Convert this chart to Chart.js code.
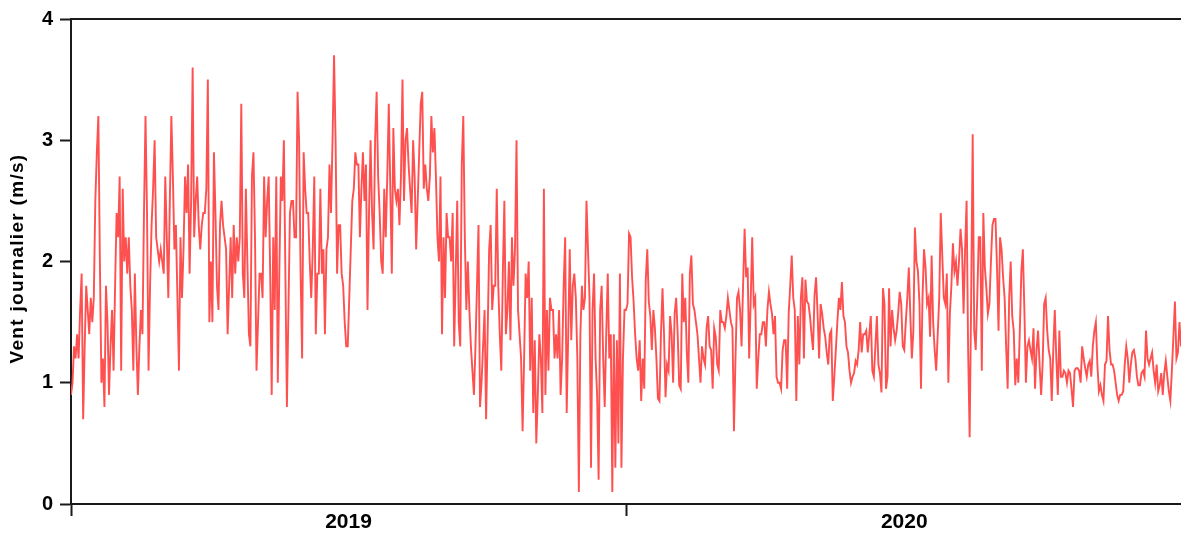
<!DOCTYPE html>
<html><head><meta charset="utf-8">
<script src="https://cdn.jsdelivr.net/npm/chart.js@4.4.1/dist/chart.umd.min.js"></script>
<style>html,body{margin:0;padding:0;background:#fff;}#wrap{width:1181px;height:535px;position:relative;}</style>
</head><body><div id="wrap"><canvas id="c"></canvas></div>
<script>
// Daily wind (m/s)
const wind2019a=[0.9,1.0,1.3,1.2,1.4,1.2,1.6,1.9,0.7,1.3,1.8,1.6,1.4,1.7,1.5,1.7,2.5,2.9,3.2,2.0,1.0,1.2,0.8,1.8,1.5,0.9,1.3,1.6,1.1,1.8,2.4,2.2,2.7,1.1,2.6,2.0,2.2,1.9,2.2,1.8,1.6,1.1,1.9,1.3,0.9,1.3,1.6,1.4,2.4,3.2,2.4,1.1,1.8,2.3,2.6,3.0,2.2,2.1,2.0,2.1,2.0,1.9,2.7,2.2,1.7,2.5,3.2,2.7,2.1,2.3,1.7,1.1,2.2,1.7,2.1,2.7,2.4,2.8,1.9,2.5,3.6,2.2,2.5,2.7,2.3,2.1,2.3,2.4,2.4,2.6,3.5,1.5];
const wind2019b=[2.0,1.5,2.9,2.4,1.8,1.6,2.3,2.5,2.3,2.2,2.1,1.4,1.8,2.2,1.7,2.3,1.9,2.2,2.0,2.2,3.3,1.9,1.7,2.6,2.0,1.4,1.3,2.7,2.9,2.2,1.1,1.5,1.9,1.9,1.7,2.7,2.2,2.5,2.7,1.9,0.9,2.2,1.6,2.7,1.0,1.9,2.7,2.5,3.0,1.9,0.8,1.6,2.4,2.5,2.5,2.2,2.2,3.4,3.0,1.9,1.2,2.9,2.6,2.4,2.4,2.0,1.7,2.1,2.7,1.4,1.9,1.9,2.6,1.9,2.1,1.4,2.1,2.2,2.8,2.4,3.0,3.7,3.0,1.9,2.3,2.3,1.9,1.8,1.5,1.3];
const wind2019c=[1.3,1.7,2.1,2.5,2.6,2.9,2.8,2.8,2.2,2.6,2.9,2.5,2.8,1.6,2.4,3.0,2.4,2.1,3.0,3.4,2.7,2.4,2.0,1.9,2.6,2.2,2.7,3.3,2.6,1.9,3.1,2.6,2.5,2.6,2.3,2.7,3.5,2.5,3.0,3.1,2.8,2.6,2.4,3.0,2.7,2.1,2.5,2.9,3.3,3.4,2.6,2.8,2.6,2.5,2.7,3.2,2.9,3.1,2.7,2.2,2.0,2.7,1.4,2.2,1.7,2.4,2.2,2.2,2.0,2.4,1.3,1.9,2.5,1.5,1.3,2.8,3.2,2.2,1.6,2.0,1.6,1.3,1.1,0.9,1.3,1.8,2.3,0.8,1.0];
const wind2019d=[1.3,1.6,0.7,1.4,2.1,2.3,1.6,1.8,1.8,2.6,1.8,1.4,1.1,1.9,2.5,1.4,1.6,2.0,1.35,2.2,1.8,2.1,3.0,1.6,1.4,1.2,0.6,1.2,1.9,1.7,2.0,1.1,1.7,0.75,1.35,0.5,0.9,1.4,1.2,0.75,2.6,0.9,1.6,1.1,1.7,1.6,1.6,1.2,1.4,1.2,1.6,0.9,1.2,1.8,2.2,0.75,1.4,2.1,1.35,1.8,1.9,1.7,1.2,0.1,1.4,1.8,1.6,1.7,2.5,2.1,1.7,0.3,1.6,1.9,1.2,0.9,0.2,1.6,1.8,1.2,0.8,1.4,1.9,1.2,1.4,0.1,1.4,0.3,1.35,0.5,1.9,0.3,1.2,1.6];
const wind2020a=[1.6,1.65,2.23,2.2,1.87,1.67,1.4,1.2,1.1,1.35,0.85,1.2,0.95,1.85,2.1,1.67,1.55,1.27,1.6,1.45,1.2,0.87,0.85,1.4,1.78,1.4,0.88,1.15,1.1,1.55,1.4,1.0,1.57,1.7,1.4,0.98,0.95,1.9,1.5,1.7,1.25,1.0,1.9,2.05,1.65,1.6,1.5,1.4,1.2,1.0,1.3,1.2,1.15,1.45,1.55,1.3,1.27,0.95,1.45,1.38,1.15,1.1,1.6,1.5,1.5,1.45,1.55,1.7,1.6,1.5,1.45,0.6,1.2,1.7,1.75,1.6,1.3,1.8,2.27,1.87,1.95,1.2,1.67,2.2,1.65,1.7,0.95,1.2,1.4,1.4];
const wind2020b=[1.5,1.5,1.3,1.6,1.75,1.65,1.57,1.4,1.55,1.05,1.0,1.0,0.95,1.27,1.35,1.35,0.95,1.57,1.8,2.05,1.7,1.6,0.85,1.55,1.15,1.7,1.87,1.2,1.85,1.67,1.65,1.55,1.4,1.27,1.72,1.87,1.57,1.2,1.65,1.57,1.45,1.38,1.25,1.15,1.4,1.43,0.85,1.05,1.27,1.5,1.7,1.6,1.83,1.55,1.5,1.3,1.25,1.1,1.0,1.05,1.08,1.18,1.15,1.27,1.5,1.25,1.4,1.4,1.43,1.25,1.4,1.55,1.1,1.05,1.3,1.55,1.15,1.08,0.92,1.78,1.65,0.95,1.05,1.78,1.3,1.6,1.45,1.35,1.43,1.57,1.75];
const wind2020c=[1.65,1.3,1.27,1.5,1.7,1.95,1.55,1.2,1.43,2.28,2.0,1.92,1.65,0.95,1.7,2.1,1.95,1.65,1.7,1.38,2.05,1.5,1.27,1.1,1.4,1.7,2.4,2.05,1.7,1.65,1.9,1.0,1.57,1.8,2.15,1.92,2.0,1.8,2.0,2.27,2.1,1.57,2.1,2.5,1.27,0.55,1.7,3.05,1.43,1.27,1.7,2.2,2.2,1.1,2.4,1.95,1.78,1.57,1.65,2.0,2.3,2.35,2.35,1.95,1.43,2.2,2.1,1.87,1.7,1.3,0.95,1.7,2.0,1.55,1.43,0.98,1.2,1.0,1.43,1.92,2.1,1.6,1.0,1.3,1.35,1.27,1.2,1.45,0.95,1.27,1.43];
const wind2020d=[1.15,0.9,1.15,1.65,1.7,1.43,1.27,1.2,0.85,1.27,1.6,1.2,0.9,1.43,1.05,1.05,1.1,1.08,1.0,1.1,1.08,0.95,0.8,1.1,1.12,1.12,1.1,1.0,1.3,1.2,1.12,1.05,1.15,1.18,1.05,1.3,1.43,1.5,1.15,0.93,0.98,0.9,0.85,1.15,1.18,1.55,1.27,1.15,1.15,1.1,1.0,0.9,0.85,0.9,0.9,0.93,1.15,1.3,1.2,1.0,1.15,1.25,1.27,1.2,1.05,0.98,0.98,1.08,1.1,1.05,1.43,1.2,1.15,1.2,1.25,1.1,1.0,1.15,0.93,0.98,1.08,0.9,1.08,1.18,1.05,0.93,0.85,1.1,1.38,1.67,1.2,1.25,1.5,1.3];

const yearLabels=['2019','2020'];
const yTickValues=[0,1,2,3,4];
const yAxisTitle='Vent journalier (m/s)';

const wind2019=[...wind2019a,...wind2019b,...wind2019c,...wind2019d];
const wind2020=[...wind2020a,...wind2020b,...wind2020c,...wind2020d];
const allValues=[...wind2019,...wind2020];
const points=allValues.map((v,i)=>({x:i,y:v}));
const n2019=wind2019.length, n2020=wind2020.length;
const tickPositions=[0,n2019/2,n2019,n2019+n2020/2];
const boundaryTicks=[0,n2019];
const AXIS='#1a1a1a';

Chart.defaults.font.family='"Liberation Sans", Arial, Helvetica, sans-serif';

const yTitlePlugin={id:'yTitle',afterDraw(chart){
  const {ctx,chartArea}=chart;
  ctx.save();
  ctx.translate(18,(chartArea.top+chartArea.bottom)/2-3);
  ctx.rotate(-Math.PI/2);
  ctx.font='bold 19px "Liberation Sans", Arial, sans-serif';
  try{ctx.letterSpacing='1.3px';}catch(e){}
  ctx.fillStyle='#000';ctx.textAlign='center';ctx.textBaseline='middle';
  ctx.fillText(yAxisTitle,0,0);
  ctx.restore();
}};

new Chart(document.getElementById('c'),{
  type:'line',
  data:{datasets:[{data:points,borderColor:'rgb(255,80,80)',borderWidth:1.9,pointRadius:0,tension:0,fill:false}]},
  options:{
    responsive:true,maintainAspectRatio:false,animation:false,devicePixelRatio:1,
    layout:{padding:{top:18,right:0,left:0,bottom:0}},
    plugins:{legend:{display:false},tooltip:{enabled:false}},
    scales:{
      x:{type:'linear',min:0,max:allValues.length-1,position:'bottom',
        afterFit:s=>{s.height=31;},
        afterBuildTicks:s=>{s.ticks=tickPositions.map(v=>({value:v}));},
        ticks:{autoSkip:false,maxRotation:0,minRotation:0,padding:-4,color:'#000',
          font:{size:21,weight:'bold',lineHeight:1},
          callback:v=>v===n2019/2?yearLabels[0]:(v===n2019+n2020/2?yearLabels[1]:'')},
        grid:{drawOnChartArea:false,drawTicks:true,tickLength:12,tickWidth:2,
          tickColor:c=>(c.tick&&boundaryTicks.includes(c.tick.value))?AXIS:'rgba(0,0,0,0)'},
        border:{display:true,color:AXIS,width:2}},
      x2:{type:'linear',position:'top',display:true,
        afterFit:s=>{s.height=0;},
        ticks:{display:false},grid:{display:false},
        border:{display:true,color:AXIS,width:2}},
      y:{min:0,max:4,
        afterFit:s=>{s.width=71;},
        afterBuildTicks:s=>{s.ticks=yTickValues.map(v=>({value:v}));},
        ticks:{padding:7,color:'#000',font:{size:20,weight:'bold'}},
        grid:{drawOnChartArea:false,tickLength:11,tickWidth:2,tickColor:AXIS},
        border:{display:true,color:AXIS,width:2}}
    }
  },
  plugins:[yTitlePlugin]
});
</script></body></html>
